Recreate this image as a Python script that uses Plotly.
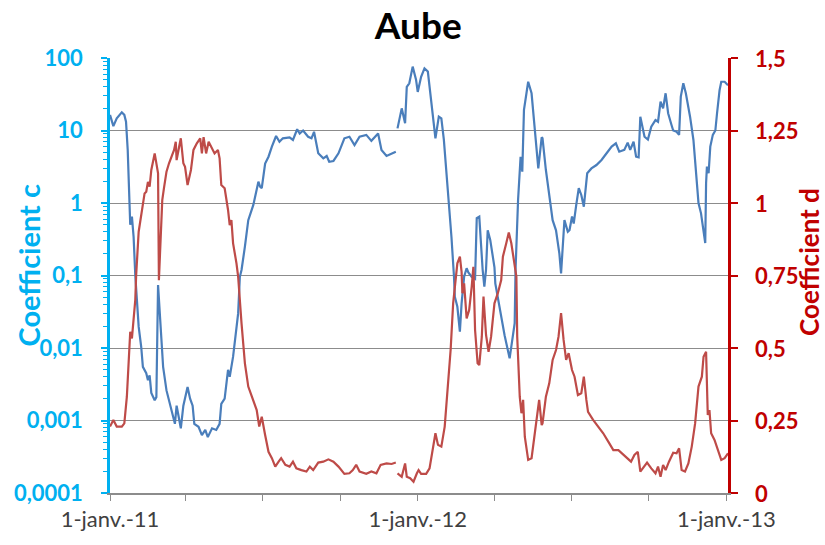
import pandas as pd
import plotly.graph_objects as go

# Observation days, counted from 1 January 2011
start = pd.Timestamp("2011-01-01")

days_c = [0, 4, 8, 14, 17, 19, 21, 24, 26, 28, 30, 34, 37, 39, 43, 45, 47, 49, 53, 55,
          57, 59, 63, 67, 71, 73, 77, 79, 82, 84, 87, 92, 95, 98, 100, 105, 109, 113, 116, 121,
          126, 130, 132, 136, 140, 142, 146, 152, 154, 156, 160, 164, 170, 176, 178, 180, 184, 188, 192, 197,
          201, 205, 213, 217, 222, 225, 229, 235, 239, 242, 247, 253, 257, 260, 265, 271, 278, 284, 290, 296,
          304, 310, 318, 322, 328, 334, 339, 340, 341, 346, 350, 352, 355, 359, 363, 365, 369, 373, 377, 380,
          383, 386, 390, 393, 396, 401, 405, 408, 409, 412, 415, 417, 420, 423, 425, 429, 433, 435, 438, 442,
          444, 446, 448, 451, 456, 457, 462, 468, 474, 480, 481, 484, 487, 489, 491, 496, 500, 504, 508, 512,
          513, 517, 521, 525, 529, 533, 535, 539, 543, 545, 548, 550, 553, 556, 559, 562, 566, 571, 577, 583,
          589, 595, 600, 604, 610, 614, 617, 621, 624, 627, 629, 632, 634, 638, 642, 647, 650, 653, 656, 659,
          662, 666, 668, 672, 675, 677, 680, 683, 688, 692, 695, 698, 701, 703, 706, 707, 708, 710, 712, 715,
          718, 720, 723, 725, 729, 733]
coef_c = [16.4, 11.5, 14.7, 17.8, 16.4, 13.2, 5.4, 0.5, 0.65, 0.34, 0.1, 0.0197, 0.0104, 0.0055, 0.0045, 0.0036, 0.0042, 0.0024, 0.0019, 0.0021,
          0.074, 0.033, 0.0055, 0.0026, 0.0017, 0.0013, 0.0009, 0.0016, 0.0011, 0.00078, 0.0016, 0.0029, 0.002, 0.0016, 0.0009, 0.00082, 0.00063, 0.00074, 0.00059, 0.00078,
          0.00074, 0.0009, 0.0017, 0.002, 0.005, 0.004, 0.0076, 0.03, 0.096, 0.119, 0.25, 0.58, 0.94, 1.97, 1.68, 1.6, 3.5, 4.35, 6.0, 8.4,
          7.0, 7.8, 8.06, 7.4, 10.4, 9.1, 10.0, 8.2, 7.8, 9.6, 4.85, 4.13, 4.45, 3.7, 3.8, 4.85, 7.8, 8.2, 6.3, 8.2,
          8.7, 7.2, 9.1, 5.4, 4.45, 4.85, 5.1, None, 10.7, 20.2, 12.6, 40.0, 44.8, 76.0, 50.0, 34.0, 55.0, 72.0, 65.0, 32.6,
          15.5, 7.8, 15.5, 14.7, 7.4, 1.51, 0.34, 0.096, 0.051, 0.037, 0.0168, 0.041, 0.096, 0.126, 0.11, 0.096, 0.09, 0.62, 0.65, 0.12,
          0.07, 0.12, 0.42, 0.31, 0.13, 0.078, 0.037, 0.015, 0.0072, 0.022, 0.12, 1.1, 4.35, 2.7, 19.2, 47.0, 32.6, 10.0, 3.0, 8.06,
          7.8, 2.85, 1.36, 0.58, 0.42, 0.2, 0.107, 0.58, 0.4, 0.42, 0.65, 0.52, 0.94, 1.6, 1.29, 0.89, 2.57, 3.0, 3.34, 3.92,
          4.85, 6.0, 6.66, 5.1, 5.4, 6.8, 5.4, 7.0, 4.35, 4.27, 15.5, 10.7, 8.2, 7.5, 11.3, 13.9, 13.2, 25.0, 20.2, 32.6,
          17.3, 11.9, 10.0, 9.6, 8.7, 29.3, 44.8, 32.6, 15.5, 7.4, 2.57, 1.0, 0.72, 0.47, 0.28, 1.87, 3.17, 2.57, 6.0, 8.7,
          10.0, 17.3, 36.0, 47.0, 47.0, 42.0]

days_d = [0, 4, 8, 14, 17, 20, 24, 26, 30, 31, 34, 37, 39, 41, 43, 45, 47, 49, 53, 55,
          57, 58, 60, 62, 64, 67, 70, 73, 76, 78, 79, 82, 84, 87, 89, 92, 96, 99, 103, 107,
          109, 111, 114, 117, 121, 124, 128, 130, 132, 136, 140, 142, 144, 146, 150, 152, 156, 160, 164, 170,
          174, 177, 180, 184, 188, 192, 196, 200, 203, 208, 213, 217, 221, 227, 233, 237, 241, 247, 253, 259,
          265, 271, 278, 284, 288, 292, 296, 304, 310, 316, 321, 328, 334, 339, 340, 341, 346, 350, 352, 356,
          360, 364, 366, 369, 375, 379, 383, 386, 389, 393, 397, 401, 404, 407, 410, 412, 415, 417, 418, 420,
          423, 426, 429, 431, 433, 436, 438, 441, 443, 446, 449, 452, 456, 460, 464, 466, 470, 473, 476, 480,
          482, 483, 486, 488, 490, 492, 496, 500, 503, 506, 509, 512, 513, 517, 521, 525, 529, 532, 535, 538,
          541, 544, 548, 551, 555, 559, 562, 565, 567, 573, 579, 585, 591, 597, 603, 609, 614, 618, 622, 626,
          629, 632, 637, 642, 647, 650, 653, 656, 659, 663, 668, 672, 675, 678, 682, 686, 690, 694, 698, 702,
          704, 707, 709, 711, 713, 717, 721, 725, 729, 733]
coef_d = [0.229, 0.252, 0.229, 0.229, 0.24, 0.332, 0.556, 0.533, 0.666, 0.75, 0.901, 0.953, 0.987, 1.033, 1.039, 1.073, 1.056, 1.114, 1.171, 1.137,
          1.102, 0.734, 0.884, 1.01, 1.051, 1.108, 1.137, 1.16, 1.183, 1.211, 1.148, 1.194, 1.223, 1.137, 1.125, 1.062, 1.114, 1.183, 1.206, 1.223,
          1.171, 1.227, 1.171, 1.211, 1.189, 1.171, 1.183, 1.154, 1.062, 1.051, 0.976, 0.924, 0.941, 0.861, 0.792, 0.746, 0.585, 0.447, 0.367, 0.321,
          0.286, 0.229, 0.263, 0.2, 0.142, 0.12, 0.091, 0.108, 0.12, 0.097, 0.091, 0.108, 0.085, 0.079, 0.074, 0.091, 0.079, 0.105, 0.108, 0.116,
          0.108, 0.091, 0.066, 0.068, 0.079, 0.097, 0.074, 0.066, 0.074, 0.068, 0.097, 0.102, 0.1, 0.105, None, 0.068, 0.056, 0.102, 0.056, 0.051,
          0.039, 0.068, 0.079, 0.066, 0.066, 0.085, 0.148, 0.206, 0.166, 0.16, 0.229, 0.367, 0.493, 0.654, 0.734, 0.792, 0.815, 0.763, 0.689, 0.723,
          0.602, 0.631, 0.711, 0.78, 0.562, 0.447, 0.441, 0.539, 0.677, 0.545, 0.487, 0.539, 0.654, 0.689, 0.734, 0.815, 0.861, 0.898, 0.861, 0.792,
          0.746, 0.539, 0.332, 0.275, 0.321, 0.194, 0.114, 0.12, 0.183, 0.263, 0.321, 0.234, 0.24, 0.332, 0.378, 0.459, 0.493, 0.539, 0.62, 0.528,
          0.459, 0.482, 0.424, 0.401, 0.338, 0.344, 0.401, 0.321, 0.28, 0.252, 0.229, 0.206, 0.177, 0.148, 0.148, 0.131, 0.12, 0.108, 0.131, 0.142,
          0.074, 0.085, 0.105, 0.085, 0.068, 0.091, 0.056, 0.097, 0.079, 0.108, 0.139, 0.137, 0.154, 0.079, 0.074, 0.102, 0.16, 0.24, 0.367, 0.401,
          0.47, 0.487, 0.269, 0.286, 0.206, 0.183, 0.148, 0.114, 0.12, 0.137]

left_tickvals = [0.0001, 0.001, 0.01, 0.1, 1, 10, 100]
left_ticktext = ["0,0001", "0,001", "0,01", "0,1", "1", "10", "100"]
right_tickvals = [0, 0.25, 0.5, 0.75, 1, 1.25, 1.5]
right_ticktext = ["0", "0,25", "0,5", "0,75", "1", "1,25", "1,5"]
x_tickvals = pd.date_range("2011-01-01", "2013-01-01", freq="QS")
x_labels = {pd.Timestamp("2011-01-01"): "1-janv.-11",
            pd.Timestamp("2012-01-01"): "1-janv.-12",
            pd.Timestamp("2013-01-01"): "1-janv.-13"}
x_ticktext = [x_labels.get(t, "") for t in x_tickvals]

dates_c = start + pd.to_timedelta(days_c, unit="D")
dates_d = start + pd.to_timedelta(days_d, unit="D")

CYAN = "#00B0F0"
DARKRED = "#C00000"
BLUE = "#4A7EBB"
RED = "#BE4B48"
GRID = "#8C8C8C"
FONT = "Lato"

minor_vals = [m * 10 ** e for e in range(-4, 2) for m in range(2, 10)]

fig = go.Figure()
fig.add_trace(go.Scatter(x=dates_c, y=coef_c, mode="lines", name="Coefficient c",
                         line=dict(color=BLUE, width=2.2), connectgaps=False, yaxis="y"))
fig.add_trace(go.Scatter(x=dates_d, y=coef_d, mode="lines", name="Coefficient d",
                         line=dict(color=RED, width=2.2), connectgaps=False, yaxis="y2"))

# Right-hand tick labels, set a little further out from the axis line
right_labels = [
    dict(text=f"<b>{t}</b>", xref="paper", yref="y2", x=1.04, y=v,
         xanchor="left", yanchor="middle", showarrow=False,
         font=dict(family=FONT, size=22, color=DARKRED))
    for v, t in zip(right_tickvals, right_ticktext)
]

fig.update_layout(
    width=825, height=545,
    margin=dict(l=110, r=97, t=58, b=52),
    paper_bgcolor="white", plot_bgcolor="white",
    showlegend=False,
    font=dict(family=FONT, size=20, color="#404040"),
    title=dict(text="<b>Aube</b>", x=0.507, xanchor="center", y=0.953, yanchor="middle",
               font=dict(family=FONT, size=37, color="black")),
    xaxis=dict(
        type="date",
        range=[start, start + pd.Timedelta(days=733)],
        tickvals=list(x_tickvals), ticktext=x_ticktext,
        ticks="outside", ticklen=6, tickcolor=GRID, tickwidth=1,
        showline=True, linecolor=GRID, linewidth=1.5,
        showgrid=False, zeroline=False,
        tickfont=dict(family=FONT, size=22, color="#404040"),
    ),
    yaxis=dict(
        type="log", range=[-4, 2],
        tickvals=left_tickvals, ticktext=left_ticktext,
        ticks="outside", ticklen=6, tickcolor=CYAN, tickwidth=1.5,
        showline=True, linecolor=CYAN, linewidth=2.5,
        showgrid=True, gridcolor=GRID, gridwidth=1,
        zeroline=False, ticklabelstandoff=14,
        tickfont=dict(family=FONT, size=22, color=CYAN, weight="bold"),
        minor=dict(tickvals=minor_vals, ticks="outside", ticklen=4,
                   tickcolor=CYAN, tickwidth=1, showgrid=False),
    ),
    yaxis2=dict(
        overlaying="y", side="right", range=[0, 1.5],
        tickvals=right_tickvals, showticklabels=False,
        ticks="outside", ticklen=7, tickcolor=DARKRED, tickwidth=2,
        showline=True, linecolor=DARKRED, linewidth=2.5,
        showgrid=False, zeroline=False,
    ),
    annotations=right_labels + [
        dict(text="<b>Coefficient c</b>", textangle=-90, xref="paper", yref="paper",
             x=-0.132, y=0.524, xanchor="center", yanchor="middle", showarrow=False,
             font=dict(family=FONT, size=29, color=CYAN)),
        dict(text="<b>Coefficient d</b>", textangle=-90, xref="paper", yref="paper",
             x=1.131, y=0.531, xanchor="center", yanchor="middle", showarrow=False,
             font=dict(family=FONT, size=26, color=DARKRED)),
    ],
)

fig.write_html("out.html")
